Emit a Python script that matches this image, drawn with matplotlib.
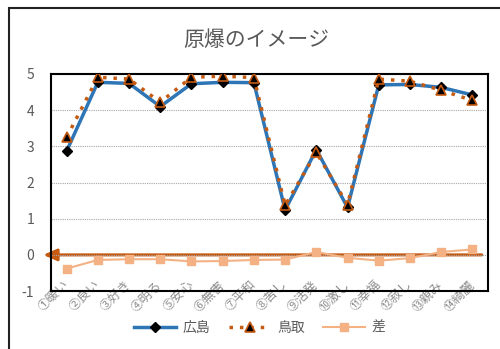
import matplotlib

matplotlib.use("Agg")

import matplotlib.pyplot as plt
from matplotlib.patches import Rectangle

plt.rcParams["font.family"] = ["Noto Sans CJK JP", "DejaVu Sans"]

categories = ["①暖い", "②良い", "③好き", "④明る", "⑤安心", "⑥無害", "⑦平和",
              "⑧苦し", "⑨活発", "⑩激し", "⑪幸福", "⑫寂し", "⑬親み", "⑭綺麗"]
hiroshima = [2.87, 4.77, 4.74, 4.10, 4.73, 4.77, 4.76, 1.24, 2.91, 1.31, 4.70, 4.71, 4.63, 4.42]
tottori = [3.25, 4.91, 4.86, 4.22, 4.91, 4.94, 4.90, 1.37, 2.83, 1.39, 4.86, 4.80, 4.55, 4.27]
diff = [-0.38, -0.14, -0.12, -0.12, -0.18, -0.17, -0.14, -0.13, 0.08, -0.08, -0.16, -0.09, 0.08, 0.15]
yticks = [-1, 0, 1, 2, 3, 4, 5]

gray = "#595959"
x = list(range(len(categories)))

fig = plt.figure(figsize=(5.0, 3.49), dpi=100)
ax = fig.add_axes([0.102, 0.166, 0.874, 0.622])

# outer chart frame (cut off on the right and bottom like the screenshot)
fig.patches.append(Rectangle((0.018, -0.05), 1.1, 1.027, transform=fig.transFigure,
                             fill=False, edgecolor="#222222", linewidth=1.5))

ax.plot(x, hiroshima, color="#2E75B6", linewidth=2.5, marker="D", markersize=5,
        markerfacecolor="black", markeredgecolor="black", label="広島", zorder=3)
ax.plot(x, tottori, color="#C55A11", linewidth=2.5, linestyle=(0, (1, 2)), marker="^",
        markersize=7, markerfacecolor="black", markeredgecolor="#C55A11",
        markeredgewidth=1.2, label="鳥取", zorder=4)
ax.plot(x, diff, color="#F4B183", linewidth=1.5, marker="s", markersize=6,
        markerfacecolor="#F4B183", markeredgecolor="#F4B183", label="差", zorder=2)

# zero reference arrow
ax.annotate("", xy=(-0.75, 0), xytext=(13.3, 0), annotation_clip=False,
            arrowprops=dict(arrowstyle="-|>,head_length=0.8,head_width=0.35",
                            color="#C55A11", linewidth=2.2, shrinkA=0, shrinkB=0),
            zorder=1)

ax.set_xlim(-0.5, len(categories) - 0.5)
ax.set_ylim(-1, 5)
ax.set_yticks(yticks)
ax.set_yticklabels([str(v) for v in yticks], color=gray, fontsize=10)
ax.set_xticks(x)
ax.set_xticklabels(categories, rotation=45, ha="right", va="center",
                   rotation_mode="anchor", color="#8c8c8c", fontsize=9)
ax.tick_params(length=0, pad=12, axis="y")
ax.tick_params(length=0, pad=-6, axis="x")
ax.grid(True, axis="y", color="#a6a6a6", linestyle=(0, (1, 1)), linewidth=0.8)
for spine in ax.spines.values():
    spine.set_color("black")
    spine.set_linewidth(1.5)

fig.text(0.512, 0.885, "原爆のイメージ", ha="center", va="center", fontsize=15, color=gray)

fig.legend(loc="center", bbox_to_anchor=(0.52, 0.06), ncol=3, frameon=False,
           fontsize=10, handlelength=3.0, columnspacing=1.3, handletextpad=0.5,
           labelcolor=gray)

fig.savefig("out.png", dpi=100)
plt.close(fig)
